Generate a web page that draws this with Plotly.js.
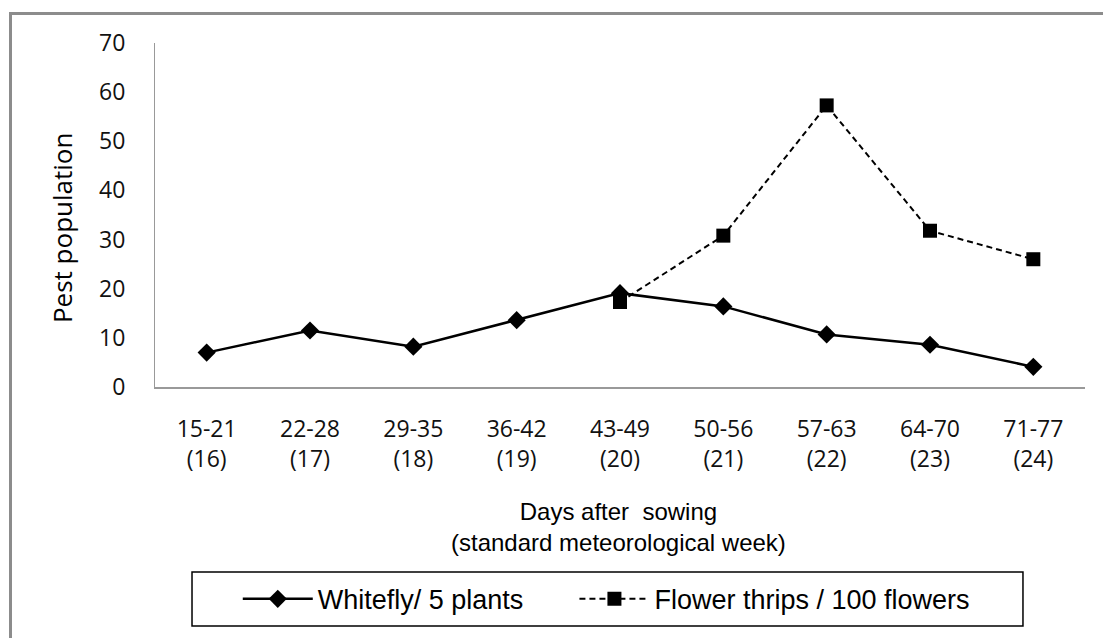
<!DOCTYPE html>
<html>
<head>
<meta charset="utf-8">
<script src="https://cdn.plot.ly/plotly-3.0.1.min.js"></script>
<style>
  html, body { margin: 0; padding: 0; background: #fff; }
  #wrap { position: relative; width: 1103px; height: 638px; overflow: hidden; }
  #chart { width: 1103px; height: 638px; }
  #frame { position: absolute; left: 9px; top: 12px; width: 1200px; height: 800px;
           border-left: 3px solid #8c8c8c; border-top: 3px solid #8c8c8c; pointer-events: none; }
</style>
</head>
<body>
<div id="wrap"><div id="chart"></div><div id="frame"></div></div>
<script>
const categories = ["15-21<br>(16)", "22-28<br>(17)", "29-35<br>(18)", "36-42<br>(19)", "43-49<br>(20)",
                    "50-56<br>(21)", "57-63<br>(22)", "64-70<br>(23)", "71-77<br>(24)"];
const whitefly = [7.0, 11.5, 8.2, 13.6, 19.1, 16.4, 10.7, 8.6, 4.1];
const thrips = [null, null, null, null, 17.3, 30.8, 57.3, 31.8, 26.0];
const yTicks = [0, 10, 20, 30, 40, 50, 60, 70];

const tickFont = { family: "Open Sans, DejaVu Sans, sans-serif", size: 23, color: "#111" };
const legendFont = { family: "Liberation Sans, Arial, sans-serif", size: 27, color: "#000" };

const traces = [
  { x: categories, y: whitefly, name: "Whitefly/ 5 plants", type: "scatter", mode: "lines+markers",
    legend: "legend",
    line: { color: "#000", width: 2.5 }, marker: { symbol: "diamond", size: 14, color: "#000" } },
  { x: categories, y: thrips, name: "Flower thrips / 100 flowers", type: "scatter", mode: "lines+markers",
    legend: "legend2",
    line: { color: "#000", width: 2, dash: "6px,4px" }, marker: { symbol: "square", size: 14, color: "#000" },
    connectgaps: false }
];

const legendCommon = { orientation: "h", xanchor: "left", y: -0.617, yanchor: "middle",
                       font: legendFont, bgcolor: "rgba(0,0,0,0)", borderwidth: 0, itemwidth: 70 };

const layout = {
  width: 1103, height: 638,
  margin: { l: 155, r: 18, t: 43, b: 251 },
  paper_bgcolor: "#fff", plot_bgcolor: "#fff",
  showlegend: true,
  legend: Object.assign({}, legendCommon, { x: 0.089 }),
  legend2: Object.assign({}, legendCommon, { x: 0.451 }),
  xaxis: { type: "category", range: [-0.5, 8.5], showgrid: false, zeroline: false,
           showline: true, linecolor: "#999", linewidth: 2, ticks: "",
           tickfont: tickFont, ticklabelstandoff: 20, fixedrange: true },
  yaxis: { range: [0, 70], tickvals: yTicks, showgrid: false, zeroline: false,
           showline: true, linecolor: "#999", linewidth: 1, ticks: "",
           tickfont: tickFont, ticklabelstandoff: 24, fixedrange: true },
  shapes: [
    { type: "rect", xref: "paper", yref: "paper", x0: 0.0398, x1: 0.9333, y0: -0.695, y1: -0.538,
      line: { color: "#000", width: 1.5 }, fillcolor: "rgba(0,0,0,0)" }
  ],
  annotations: [
    { text: "Pest population", xref: "paper", yref: "paper", x: -0.1, y: 0.462,
      xanchor: "center", yanchor: "middle", textangle: -90, showarrow: false,
      font: { family: "Open Sans, DejaVu Sans, sans-serif", size: 26, color: "#000" } },
    { text: "Days after  sowing<br>(standard meteorological week)", xref: "paper", yref: "paper",
      x: 0.498, y: -0.407, xanchor: "center", yanchor: "middle", showarrow: false, align: "center",
      font: { family: "Liberation Sans, Arial, sans-serif", size: 24, color: "#000" } }
  ]
};

Plotly.newPlot("chart", traces, layout, { displayModeBar: false, staticPlot: true });
</script>
</body>
</html>
